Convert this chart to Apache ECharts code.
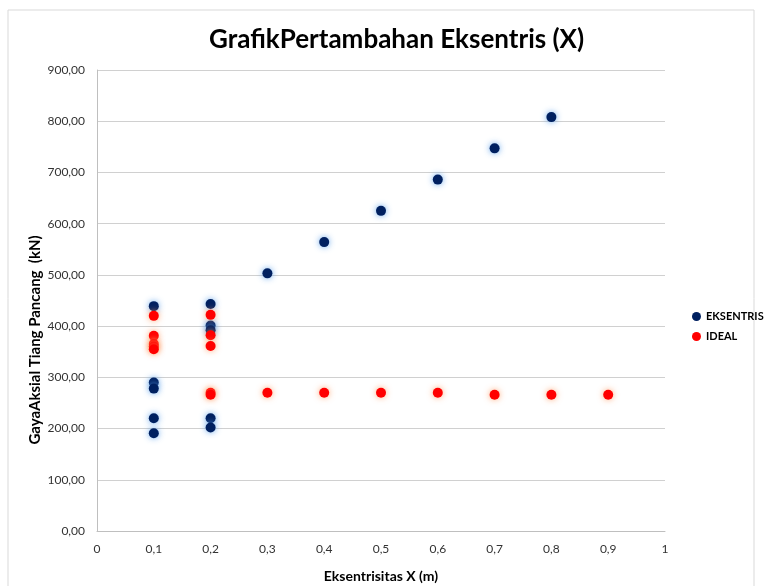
<!DOCTYPE html>
<html>
<head>
<meta charset="utf-8">
<script src="https://cdn.jsdelivr.net/npm/echarts@6/dist/echarts.min.js"></script>
<style>html,body{margin:0;padding:0;background:#fff;}#c{width:764px;height:586px;}</style>
</head>
<body>
<div id="c"></div>
<script>
var titleText = 'GrafikPertambahan Eksentris (X)';
var xName = 'Eksentrisitas X (m)';
var yName = 'GayaAksial Tiang Pancang  (kN)';
var seriesNames = ['EKSENTRIS', 'IDEAL'];
var eksX = [0.1, 0.1, 0.1, 0.1, 0.1, 0.2, 0.2, 0.2, 0.2, 0.2, 0.3, 0.4, 0.5, 0.6, 0.7, 0.8];
var eksY = [439, 290, 278, 220, 191, 443, 401, 392, 220, 202, 503, 564, 625, 686, 747, 808];
var idealX = [0.1, 0.1, 0.1, 0.1, 0.1, 0.2, 0.2, 0.2, 0.2, 0.2, 0.3, 0.4, 0.5, 0.6, 0.7, 0.8, 0.9];
var idealY = [420, 381, 365, 360, 355, 422, 382, 361, 270, 266, 270, 270, 270, 270, 266, 266, 266];
var xTicks = [0, 1, 0.1];
var yTicks = [0, 900, 100];

function pairs(xs, ys) { return xs.map(function (x, i) { return [x, ys[i]]; }); }

var chart = echarts.init(document.getElementById('c'));
var font = 'Lato, "Open Sans", sans-serif';
chart.setOption({
  backgroundColor: '#fff',
  animation: false,
  textStyle: { fontFamily: font },
  graphic: [{
    type: 'rect', shape: { x: 8, y: 10, width: 746, height: 580 },
    style: { fill: 'none', stroke: '#d9d9d9', lineWidth: 1 }, silent: true
  }, {
    type: 'text', x: 35, y: 340, rotation: Math.PI / 2, silent: true,
    style: {
      text: yName, fontFamily: font, fontSize: 15, fontWeight: 'bold', fill: '#000',
      align: 'center', verticalAlign: 'middle'
    }
  }],
  title: {
    text: titleText, left: 204, top: 22,
    textStyle: { fontFamily: font, fontSize: 26, fontWeight: 'bold', color: '#000' }
  },
  legend: {
    orient: 'vertical', left: 687, top: 306, itemGap: 9,
    itemWidth: 9, itemHeight: 9, icon: 'circle',
    textStyle: { fontFamily: font, fontSize: 11, fontWeight: 'bold', color: '#000' },
    data: seriesNames
  },
  grid: { left: 97, right: 99, top: 70, bottom: 55, containLabel: false, outerBoundsMode: 'none' },
  xAxis: {
    type: 'value', min: xTicks[0], max: xTicks[1], interval: xTicks[2],
    name: xName, nameLocation: 'middle', nameGap: 38,
    nameTextStyle: { fontFamily: font, fontSize: 14, fontWeight: 'bold', color: '#000' },
    axisLine: { show: true, lineStyle: { color: '#bfbfbf' } },
    axisTick: { show: false },
    splitLine: { show: false },
    axisLabel: {
      margin: 12, color: '#333', fontSize: 12, fontFamily: font,
      formatter: function (v) { return String(Math.round(v * 10) / 10).replace('.', ','); }
    }
  },
  yAxis: {
    type: 'value', min: yTicks[0], max: yTicks[1], interval: yTicks[2],
    axisLine: { show: true, lineStyle: { color: '#bfbfbf' } },
    axisTick: { show: false },
    splitLine: { show: true, lineStyle: { color: '#d0d0d0' } },
    axisLabel: {
      margin: 12, color: '#333', fontSize: 12, fontFamily: font,
      formatter: function (v) { return v.toFixed(2).replace('.', ','); }
    }
  },
  series: [
    {
      name: seriesNames[0], type: 'scatter', symbolSize: 10,
      itemStyle: { color: '#002060', opacity: 1, shadowBlur: 6, shadowColor: 'rgba(90,160,235,0.9)' },
      data: pairs(eksX, eksY)
    },
    {
      name: seriesNames[1], type: 'scatter', symbolSize: 10,
      itemStyle: { color: '#ff0000', opacity: 1, shadowBlur: 6, shadowColor: 'rgba(255,150,90,0.8)' },
      data: pairs(idealX, idealY)
    }
  ]
});
</script>
</body>
</html>
